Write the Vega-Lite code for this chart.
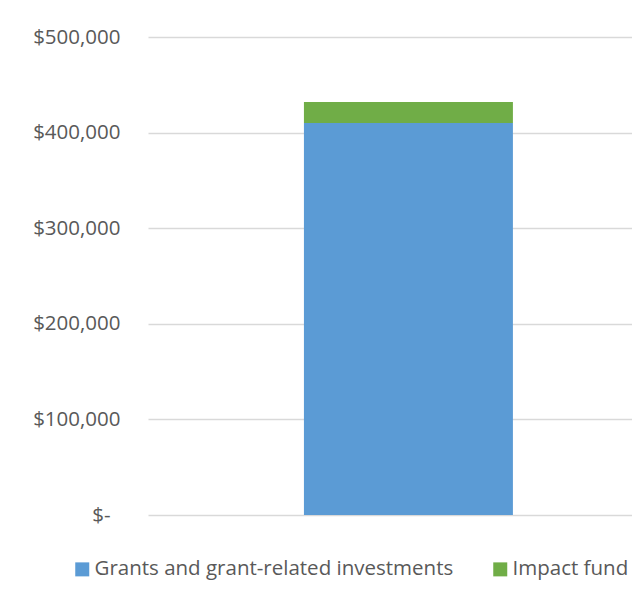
{
  "$schema": "https://vega.github.io/schema/vega-lite/v6.json",
  "width": 484,
  "height": 478,
  "autosize": {"type": "none"},
  "padding": {"left": 148, "top": 37, "right": 0, "bottom": 87},
  "background": "white",
  "data": {
    "values": [
      {"category": "Total", "series": "Grants and grant-related investments", "rank": 1, "amount": 410000},
      {"category": "Total", "series": "Impact fund", "rank": 2, "amount": 22000}
    ]
  },
  "mark": {"type": "bar"},
  "encoding": {
    "x": {
      "field": "category",
      "type": "nominal",
      "scale": {"paddingInner": 0, "paddingOuter": 0.658, "align": 0.567},
      "axis": null
    },
    "y": {
      "field": "amount",
      "type": "quantitative",
      "stack": "zero",
      "scale": {"domain": [0, 500000], "nice": false},
      "axis": {
        "title": null,
        "values": [0, 100000, 200000, 300000, 400000, 500000],
        "labelExpr": "datum.value == 0 ? '$-' : '$' + format(datum.value, ',')",
        "ticks": false,
        "domain": false,
        "labelPadding": {"condition": {"test": "datum.value === 0", "value": 38}, "value": 28},
        "labelFont": "Open Sans",
        "labelFontSize": 20.5,
        "labelColor": "#595959",
        "gridColor": "#d9d9d9",
        "gridWidth": 1.3
      }
    },
    "order": {"field": "rank", "type": "quantitative", "sort": "ascending"},
    "color": {
      "field": "series",
      "type": "nominal",
      "scale": {
        "domain": ["Grants and grant-related investments", "Impact fund"],
        "range": ["#5B9BD5", "#70AD47"]
      },
      "legend": {
        "title": null,
        "orient": "none",
        "direction": "horizontal",
        "legendX": -76,
        "legendY": 522,
        "symbolType": "square",
        "symbolSize": 196,
        "symbolStrokeWidth": 0,
        "symbolOpacity": 1,
        "labelFont": "Open Sans",
        "labelFontSize": 20.5,
        "labelColor": "#595959",
        "labelOffset": 2,
        "columnPadding": 36,
        "labelLimit": 600
      }
    }
  },
  "config": {"view": {"stroke": null}}
}
